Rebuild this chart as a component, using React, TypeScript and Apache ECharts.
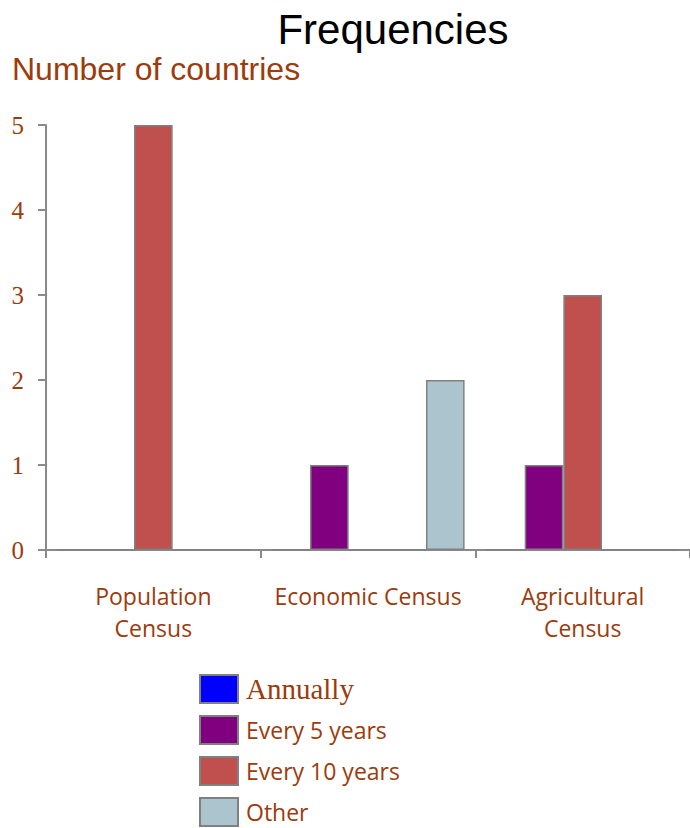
import React, { useEffect, useRef } from "react";
import * as echarts from "echarts";

const categories = ["Population\nCensus", "Economic Census", "Agricultural\nCensus"];
const yTicks = [0, 1, 2, 3, 4, 5];
const annually = [0, 0, 0];
const every5Years = [0, 1, 1];
const every10Years = [5, 0, 3];
const unlisted = [0, 0, 0];
const other = [0, 2, 0];
const legendNames = ["Annually", "Every 5 years", "Every 10 years", "Other"];

const BROWN = "#9C3B0C";
const AXIS = "#8a8a8a";
const BORDER = "#808080";

export default function App() {
  const ref = useRef<HTMLDivElement>(null);
  useEffect(() => {
    if (!ref.current) return;
    const chart = echarts.init(ref.current, undefined, { renderer: "svg" });
    const barStyle = (color: string) => ({
      color,
      borderColor: BORDER,
      borderWidth: 1.5,
    });
    chart.setOption({
      animation: false,
      backgroundColor: "#ffffff",
      title: [
        {
          text: "Frequencies",
          left: 393,
          textAlign: "center",
          top: 8,
          padding: 0,
          textStyle: {
            fontFamily: "Liberation Sans",
            fontSize: 42,
            fontWeight: "normal",
            color: "#000000",
          },
        },
        {
          text: "Number of countries",
          left: 12,
          top: 53,
          padding: 0,
          textStyle: {
            fontFamily: "Liberation Sans",
            fontSize: 32,
            fontWeight: "normal",
            color: BROWN,
          },
        },
      ],
      legend: {
        data: legendNames,
        orient: "vertical",
        left: 199,
        top: 674,
        height: 300,
        padding: 0,
        itemWidth: 38,
        itemHeight: 28,
        itemGap: 11,
        icon: "rect",
        selectedMode: false,
        itemStyle: { borderColor: BORDER, borderWidth: 2 },
        formatter: (name: string) =>
          name === "Annually" ? `{s|${name}}` : `{n|${name}}`,
        textStyle: {
          color: BROWN,
          padding: [0, 0, 0, 3],
          rich: {
            s: { fontFamily: "Liberation Serif", fontSize: 29, lineHeight: 28, color: BROWN },
            n: { fontFamily: "Open Sans", fontSize: 23, lineHeight: 28, color: BROWN },
          },
        },
      },
      grid: { left: 46, width: 647, top: 125, bottom: 278, containLabel: false },
      xAxis: {
        type: "category",
        data: categories,
        axisLine: { lineStyle: { color: AXIS, width: 2 } },
        axisTick: { show: true, length: 8, lineStyle: { color: AXIS, width: 2 } },
        axisLabel: {
          interval: 0,
          margin: 30,
          fontFamily: "Open Sans",
          fontSize: 23,
          lineHeight: 32,
          color: BROWN,
        },
      },
      yAxis: {
        type: "value",
        min: 0,
        max: yTicks[yTicks.length - 1],
        interval: 1,
        splitLine: { show: false },
        axisLine: { show: true, lineStyle: { color: AXIS, width: 2 } },
        axisTick: { show: true, length: 8, lineStyle: { color: AXIS, width: 2 } },
        axisLabel: {
          margin: 22,
          fontFamily: "Liberation Serif",
          fontSize: 25,
          color: BROWN,
        },
      },
      series: [
        { name: "Annually", type: "bar", data: annually, itemStyle: barStyle("#0000FF"), barGap: "0%", barCategoryGap: "10%" },
        { name: "Every 5 years", type: "bar", data: every5Years, itemStyle: barStyle("#800080") },
        { name: "Every 10 years", type: "bar", data: every10Years, itemStyle: barStyle("#C0504D") },
        { name: "Unlisted", type: "bar", data: unlisted, itemStyle: barStyle("#ffffff") },
        { name: "Other", type: "bar", data: other, itemStyle: barStyle("#ACC4CD") },
      ],
    });
    return () => chart.dispose();
  }, []);
  return (
    <div
      ref={ref}
      style={{ position: "fixed", left: 0, top: 0, width: 690, height: 828 }}
    />
  );
}
